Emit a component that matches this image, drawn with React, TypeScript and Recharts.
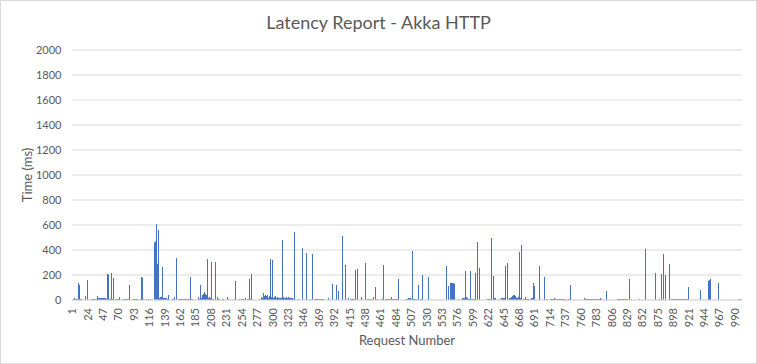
import React from "react";
import { BarChart, Bar, XAxis, YAxis, CartesianGrid } from "recharts";

// Latency (ms) per request number 1..1000
const latencyMs: number[] = [
  0, 0, 8, 16, 8, 0, 8, 8, 8, 136, 0, 120, 8, 8, 8, 0, 0, 0, 0, 8,
  32, 0, 0, 160, 0, 0, 0, 0, 0, 8, 8, 8, 8, 8, 8, 8, 8, 8, 32, 16,
  16, 16, 16, 16, 16, 16, 16, 16, 16, 16, 8, 8, 205, 208, 205, 8, 8, 8, 8, 216,
  8, 0, 176, 0, 8, 8, 8, 8, 8, 8, 8, 24, 0, 0, 0, 0, 8, 8, 8, 8,
  8, 8, 8, 8, 8, 8, 120, 0, 0, 0, 0, 0, 8, 8, 8, 8, 8, 8, 8, 0,
  0, 0, 8, 184, 176, 168, 8, 0, 0, 0, 8, 0, 0, 0, 8, 0, 0, 8, 0, 0,
  0, 0, 8, 460, 470, 608, 300, 290, 560, 40, 16, 24, 16, 24, 16, 264, 16, 16, 16, 16,
  16, 16, 8, 40, 8, 0, 0, 0, 0, 8, 8, 8, 24, 8, 0, 0, 336, 0, 8, 8,
  8, 8, 8, 8, 8, 8, 8, 8, 8, 8, 8, 8, 8, 8, 8, 8, 184, 8, 8, 8,
  8, 0, 0, 0, 0, 0, 0, 0, 24, 24, 8, 8, 120, 16, 24, 40, 48, 56, 64, 48,
  40, 16, 328, 16, 24, 24, 16, 304, 16, 8, 8, 8, 0, 304, 0, 0, 24, 8, 8, 8,
  0, 0, 0, 0, 8, 0, 8, 0, 0, 0, 0, 8, 24, 8, 0, 0, 0, 0, 0, 0,
  0, 0, 8, 8, 152, 0, 0, 0, 0, 8, 8, 0, 8, 8, 8, 8, 0, 0, 16, 0,
  0, 8, 8, 8, 8, 168, 8, 208, 0, 0, 0, 0, 0, 0, 0, 0, 0, 0, 0, 8,
  0, 0, 16, 24, 16, 56, 24, 32, 40, 24, 32, 40, 24, 16, 32, 24, 328, 16, 24, 320,
  16, 24, 16, 32, 16, 16, 24, 16, 16, 16, 16, 16, 16, 480, 16, 24, 16, 16, 16, 24,
  16, 16, 24, 16, 16, 16, 16, 16, 16, 16, 8, 544, 0, 0, 0, 0, 0, 0, 8, 0,
  0, 0, 0, 416, 0, 0, 0, 0, 0, 0, 376, 0, 0, 0, 0, 8, 0, 0, 368, 0,
  0, 8, 8, 8, 8, 8, 8, 8, 8, 8, 8, 8, 8, 8, 8, 8, 0, 0, 0, 0,
  0, 0, 16, 0, 0, 0, 0, 0, 128, 0, 0, 0, 0, 0, 120, 120, 0, 0, 72, 0,
  0, 0, 0, 512, 0, 0, 0, 280, 0, 0, 0, 0, 16, 0, 0, 8, 8, 8, 8, 8,
  8, 8, 8, 240, 0, 0, 248, 0, 0, 0, 0, 0, 24, 0, 0, 0, 0, 296, 280, 0,
  8, 8, 8, 8, 8, 8, 8, 8, 0, 24, 0, 0, 0, 104, 0, 0, 8, 0, 0, 0,
  0, 8, 8, 8, 280, 0, 0, 8, 8, 8, 8, 8, 8, 8, 8, 8, 8, 24, 8, 8,
  8, 8, 8, 8, 8, 8, 8, 168, 0, 0, 0, 0, 0, 0, 0, 0, 0, 0, 0, 8,
  8, 8, 16, 16, 16, 16, 8, 392, 8, 8, 8, 8, 8, 8, 0, 0, 120, 0, 0, 8,
  8, 8, 8, 200, 0, 0, 0, 0, 0, 0, 0, 184, 0, 0, 0, 0, 0, 0, 0, 0,
  0, 0, 0, 0, 0, 0, 0, 0, 0, 0, 0, 0, 0, 0, 0, 0, 0, 0, 0, 272,
  0, 0, 112, 0, 0, 136, 136, 136, 136, 136, 0, 128, 0, 0, 0, 0, 8, 0, 0, 0,
  0, 0, 0, 16, 16, 16, 16, 232, 16, 24, 16, 0, 8, 8, 8, 232, 8, 8, 8, 8,
  8, 216, 0, 0, 464, 0, 0, 0, 256, 0, 0, 0, 0, 0, 0, 0, 0, 0, 0, 0,
  8, 8, 8, 8, 8, 312, 496, 0, 192, 16, 16, 16, 16, 0, 0, 0, 0, 0, 8, 0,
  0, 16, 16, 16, 16, 16, 272, 0, 0, 296, 0, 0, 16, 16, 16, 24, 24, 32, 40, 40,
  40, 32, 24, 16, 16, 16, 24, 16, 384, 16, 16, 440, 0, 0, 8, 8, 8, 24, 8, 8,
  8, 8, 8, 8, 0, 0, 16, 16, 136, 24, 112, 0, 0, 0, 0, 0, 0, 0, 272, 0,
  0, 0, 0, 0, 184, 0, 0, 8, 0, 0, 0, 0, 0, 8, 8, 8, 8, 8, 8, 8,
  16, 8, 8, 8, 8, 8, 8, 8, 8, 8, 8, 8, 8, 8, 8, 8, 0, 8, 0, 0,
  0, 8, 8, 120, 0, 0, 0, 0, 0, 0, 0, 0, 0, 0, 0, 0, 0, 0, 0, 0,
  0, 0, 0, 0, 8, 16, 8, 8, 8, 8, 8, 8, 8, 8, 8, 8, 8, 8, 8, 8,
  8, 8, 8, 8, 8, 8, 8, 8, 16, 8, 8, 0, 0, 0, 0, 0, 0, 0, 72, 0,
  0, 0, 0, 0, 0, 0, 0, 0, 0, 0, 0, 0, 0, 8, 8, 8, 8, 8, 8, 8,
  8, 8, 8, 8, 8, 8, 8, 8, 8, 0, 0, 168, 0, 0, 0, 8, 0, 0, 0, 0,
  0, 0, 0, 0, 0, 0, 8, 0, 0, 0, 0, 0, 0, 0, 0, 408, 0, 0, 0, 0,
  0, 0, 0, 0, 0, 0, 0, 0, 0, 0, 0, 216, 0, 0, 0, 0, 0, 8, 0, 208,
  0, 0, 368, 0, 0, 200, 0, 0, 0, 0, 0, 0, 288, 0, 8, 8, 8, 8, 8, 8,
  8, 8, 8, 8, 8, 8, 8, 8, 8, 8, 8, 8, 8, 8, 8, 8, 8, 8, 8, 8,
  104, 0, 0, 0, 0, 0, 0, 0, 0, 0, 0, 0, 0, 0, 0, 0, 0, 72, 80, 0,
  0, 0, 0, 0, 0, 0, 0, 0, 0, 144, 152, 160, 168, 152, 0, 0, 0, 0, 0, 0,
  0, 0, 0, 0, 136, 0, 0, 0, 0, 0, 0, 0, 0, 0, 0, 0, 0, 0, 0, 0,
  0, 0, 0, 0, 0, 0, 0, 0, 0, 0, 0, 0, 0, 0, 8, 0, 0, 0, 8, 0,
];

const requestNumbers: number[] = latencyMs.map((_, i) => i + 1);
const yTicks: number[] = [0, 200, 400, 600, 800, 1000, 1200, 1400, 1600, 1800, 2000];

const data = latencyMs.map((ms, i) => ({ req: requestNumbers[i], ms }));

const FONT = "Lato, 'Open Sans', sans-serif";
const TEXT = "#595959";
const BAR = "#4472C4";

const XTick = (props: any) => {
  const { x, y, payload } = props;
  return (
    <text
      x={x}
      y={y}
      transform={`rotate(-90 ${x} ${y})`}
      textAnchor="end"
      dy="0.35em"
      fill={TEXT}
      fontSize={11}
      fontFamily={FONT}
    >
      {payload.value}
    </text>
  );
};

const YTick = (props: any) => {
  const { y, payload } = props;
  return (
    <text x={61.5} y={y} dy="0.35em" textAnchor="end" fill={TEXT} fontSize={11} fontFamily={FONT}>
      {payload.value}
    </text>
  );
};

// Bar snapped to the device pixel containing the category centre (from the library's scale)
const PixelBar = (props: any) => {
  const { x, y, width, height } = props;
  if (!height || height <= 0) return <g />;
  const cx = x + width / 2;
  const px = Math.floor(cx);
  return <rect x={px} y={y} width={1} height={height} fill={BAR} />;
};

export default function App() {
  return (
    <div
      style={{
        position: "relative",
        width: 757,
        height: 364,
        background: "#fff",
        fontFamily: FONT,
      }}
    >
      <style>{`body{margin:0}`}</style>
      <div
        style={{
          position: "absolute",
          left: 0,
          top: 0,
          width: 757,
          height: 364,
          boxSizing: "border-box",
          border: "1px solid #d9d9d9",
          pointerEvents: "none",
        }}
      />
      <BarChart
        width={757}
        height={364}
        data={data}
        margin={{ top: 50, right: 15, bottom: 24, left: 0 }}
        barCategoryGap={0}
        barGap={0}
      >
        <CartesianGrid vertical={false} stroke="#d9d9d9" />
        <XAxis
          dataKey="req"
          interval={22}
          height={40}
          tickLine={false}
          axisLine={{ stroke: "#d9d9d9" }}
          tick={<XTick />}
        />
        <YAxis
          width={72}
          domain={[0, 2000]}
          ticks={yTicks}
          axisLine={false}
          tickLine={false}
          tick={<YTick />}
        />
        <Bar dataKey="ms" fill={BAR} shape={<PixelBar />} isAnimationActive={false} />
      </BarChart>
      <div
        style={{
          position: "absolute",
          left: 0,
          width: 757,
          top: 10,
          textAlign: "center",
          fontSize: 18,
          color: TEXT,
          lineHeight: "24px",
        }}
      >
        Latency Report - Akka HTTP
      </div>
      <div
        style={{
          position: "absolute",
          left: 27,
          top: 175,
          transform: "translate(-50%, -50%) rotate(-90deg)",
          fontSize: 13,
          color: TEXT,
          whiteSpace: "nowrap",
        }}
      >
        Time (ms)
      </div>
      <div
        style={{
          position: "absolute",
          left: 407,
          top: 340,
          transform: "translate(-50%, -50%)",
          fontSize: 13,
          color: TEXT,
          whiteSpace: "nowrap",
        }}
      >
        Request Number
      </div>
    </div>
  );
}
